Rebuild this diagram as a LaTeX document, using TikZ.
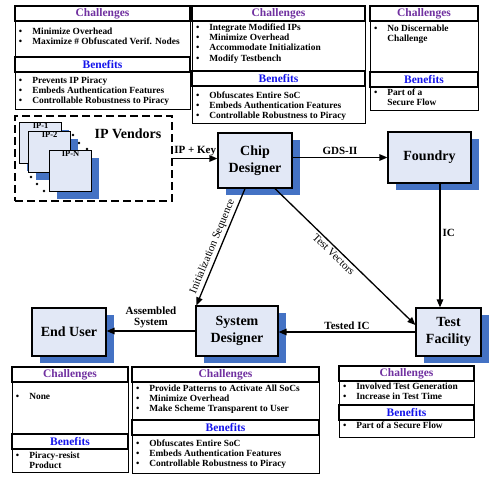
\documentclass[tikz,border=0pt]{standalone}
\usepackage{fontspec}
\setmainfont{Liberation Serif}
\usetikzlibrary{positioning,shadows,arrows.meta}

\definecolor{boxfill}{RGB}{226,232,246}
\definecolor{shadowblue}{RGB}{68,114,196}
\definecolor{chalpurple}{RGB}{112,48,160}
\definecolor{beneblue}{RGB}{20,20,235}

% list box: width, height, top pad, rows
\newcommand{\itemlist}[4]{\parbox[c][#2][t]{#1}{\vspace*{#3}\fontsize{9.4}{10.3}\selectfont\bfseries
  \begin{tabular}[t]{@{\hspace{4pt}}l@{\hspace{10pt}}l@{}}#4\end{tabular}}}
\newcommand{\ipbox}[1]{\parbox[c][41pt][t]{42pt}{\centering\vspace*{0.5pt}#1}}

\tikzset{
  hdr/.style={draw, line width=1.5pt, inner sep=0pt, outer sep=0pt, minimum height=15pt,
    font=\fontsize{11.5}{12}\selectfont\bfseries},
  chal/.style={hdr, text=chalpurple},
  bene/.style={hdr, text=beneblue},
  lst/.style={draw, line width=0.8pt, inner sep=0pt, outer sep=0pt},
  actor/.style={draw, line width=1.2pt, fill=boxfill, align=center, inner sep=0pt,
    font=\fontsize{14}{17}\selectfont\bfseries,
    drop shadow={shadow xshift=8pt, shadow yshift=-7pt, fill=shadowblue, opacity=1}},
  ipchip/.style={draw, line width=1.2pt, fill=boxfill, inner sep=0pt,
    font=\fontsize{8.5}{9}\selectfont\bfseries,
    drop shadow={shadow xshift=7pt, shadow yshift=-7pt, fill=shadowblue, opacity=1}},
  arr/.style={-{Triangle[length=8pt,width=6.5pt]}, line width=1.3pt},
  elabel/.style={font=\fontsize{11}{11.5}\selectfont\bfseries, inner sep=2pt, align=center},
  slabel/.style={font=\fontsize{11}{12}\selectfont, inner sep=2pt, sloped},
}

\begin{document}
\begin{tikzpicture}[x=1pt,y=-1pt]
\useasboundingbox (0,0) rectangle (490,477);

% top left group
\node[chal, minimum width=175pt, anchor=north west] (tlch) at (15,6) {Challenges};
\node[lst, below=0pt of tlch] (tlcl) {\itemlist{175pt}{36pt}{6pt}{\textbullet & Minimize Overhead\\
  \textbullet & Maximize \# Obfuscated Verif. Nodes}};
\node[bene, minimum width=175pt, below=0pt of tlcl] (tlbh) {Benefits};
\node[lst, below=0pt of tlbh] (tlbl) {\itemlist{175pt}{37pt}{4pt}{\textbullet & Prevents IP Piracy\\
  \textbullet & Embeds Authentication Features\\
  \textbullet & Controllable Robustness to Piracy}};

% top middle group
\node[chal, minimum width=173pt, anchor=north west] (tmch) at (192,6) {Challenges};
\node[lst, below=0pt of tmch] (tmcl) {\itemlist{173pt}{50pt}{2pt}{\textbullet & Integrate Modified IPs\\
  \textbullet & Minimize Overhead\\
  \textbullet & Accommodate Initialization\\
  \textbullet & Modify Testbench}};
\node[bene, minimum width=173pt, below=0pt of tmcl] (tmbh) {Benefits};
\node[lst, below=0pt of tmbh] (tmbl) {\itemlist{173pt}{37pt}{5pt}{\textbullet & Obfuscates Entire SoC\\
  \textbullet & Embeds Authentication Features\\
  \textbullet & Controllable Robustness to Piracy}};

% top right group
\node[chal, minimum width=108pt, anchor=north west] (trch) at (370,6) {Challenges};
\node[lst, below=0pt of trch] (trcl) {\itemlist{108pt}{51pt}{3pt}{\textbullet & No Discernable\\
  & Challenge}};
\node[bene, minimum width=108pt, below=0pt of trcl] (trbh) {Benefits};
\node[lst, below=0pt of trbh] (trbl) {\itemlist{108pt}{23pt}{1pt}{\textbullet & Part of a\\
  & Secure Flow}};

% IP vendors
\node[draw, dashed, dash pattern=on 8pt off 4pt, line width=2pt, minimum width=157pt,
  minimum height=85pt] (vend) at (93.5,158.5) {};
\node[font=\fontsize{14}{17}\selectfont\bfseries] (vendtxt) at (128,134) {IP Vendors};
\node[ipchip, anchor=north west] (ip1) at (19,122) {\ipbox{IP-1}};
\node[ipchip, anchor=north west] (ip2) at (28,131) {\ipbox{IP-2}};
\node[ipchip, anchor=north west] (ipn) at (49,150) {\ipbox{IP-N}};
\foreach \p in {(73,135),(79,143),(87,149),(31,177),(37,184),(44,191)}
  \fill \p circle (1.3pt);

% actors
\node[actor, minimum width=74pt, minimum height=55pt] (chip) at (255,160.5) {Chip\\Designer};
\node[actor, minimum width=83pt, minimum height=51pt] (fnd) at (429.5,157.5) {Foundry};
\node[actor, minimum width=65pt, minimum height=48pt] (tst) at (448.5,332) {Test\\Facility};
\node[actor, minimum width=82pt, minimum height=50pt] (sys) at (237,331) {System\\Designer};
\node[actor, minimum width=74pt, minimum height=48pt] (usr) at (69,332) {End User};

% flows
\draw[arr] (vend.east) -- node[elabel, above] {IP + Key} (chip.west |- vend.east);
\draw[arr] (chip.east |- fnd.west) -- node[elabel, above] {GDS-II} (fnd.west);
\draw[arr] ([xshift=10.5pt]fnd.south) -- node[elabel, right, pos=0.4] {IC} ([xshift=10.5pt]fnd.south |- tst.north);
\draw[arr] (tst.west) -- node[elabel, above] {Tested IC} (sys.east |- tst.west);
\draw[arr] (sys.west) -- node[elabel, above] {Assembled\\System} (usr.east |- sys.west);
\draw[arr] ([xshift=-10pt]chip.south) -- node[slabel, above, pos=0.52] {Initialization Sequence} ([xshift=1pt]sys.north west);
\draw[arr] ([xshift=20pt]chip.south) -- node[slabel, below, pos=0.45] {Test Vectors} ([yshift=7pt]tst.west);

% bottom left group
\node[chal, minimum width=116pt, anchor=north west] (blch) at (12,367) {Challenges};
\node[lst, below=0pt of blch] (blcl) {\itemlist{116pt}{52pt}{10pt}{\textbullet & None}};
\node[bene, minimum width=116pt, below=0pt of blcl] (blbh) {Benefits};
\node[lst, below=0pt of blbh] (blbl) {\itemlist{116pt}{23pt}{2pt}{\textbullet & Piracy-resist\\
  & Product}};

% bottom middle group
\node[chal, minimum width=187pt, anchor=north west] (bmch) at (132,367) {Challenges};
\node[lst, below=0pt of bmch] (bmcl) {\itemlist{187pt}{38pt}{2pt}{\textbullet & Provide Patterns to Activate All SoCs\\
  \textbullet & Minimize Overhead\\
  \textbullet & Make Scheme Transparent to User}};
\node[bene, minimum width=187pt, below=0pt of bmcl] (bmbh) {Benefits};
\node[lst, below=0pt of bmbh] (bmbl) {\itemlist{187pt}{38pt}{4pt}{\textbullet & Obfuscates Entire SoC\\
  \textbullet & Embeds Authentication Features\\
  \textbullet & Controllable Robustness to Piracy}};

% bottom right group
\node[chal, minimum width=135pt, anchor=north west] (brch) at (339,366) {Challenges};
\node[lst, below=0pt of brch] (brcl) {\itemlist{135pt}{24pt}{1pt}{\textbullet & Involved Test Generation\\
  \textbullet & Increase in Test Time}};
\node[bene, minimum width=135pt, below=0pt of brcl] (brbh) {Benefits};
\node[lst, below=0pt of brbh] (brbl) {\itemlist{135pt}{17pt}{1.5pt}{\textbullet & Part of a Secure Flow}};
\end{tikzpicture}
\end{document}
